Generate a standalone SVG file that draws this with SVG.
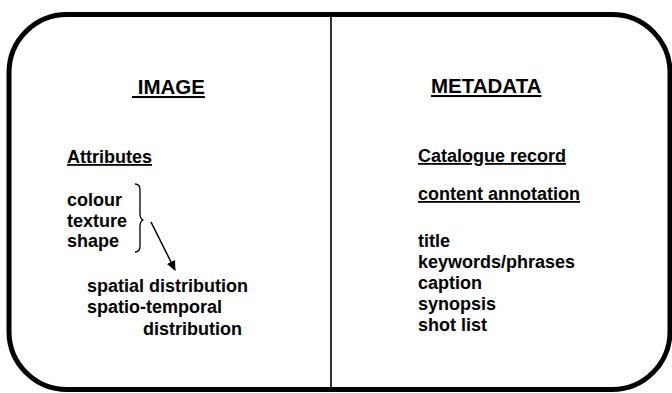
<svg xmlns="http://www.w3.org/2000/svg" width="672" height="393" viewBox="0 0 672 393">
<defs>
<style>
.t{font-family:"Liberation Sans",Arial,sans-serif;font-weight:bold;fill:#000;}
.h{font-size:20.5px;}
.s{font-size:18px;}
.u{text-decoration:underline;}
</style>
<marker id="ah" markerWidth="10" markerHeight="10" refX="9" refY="5" orient="auto" markerUnits="userSpaceOnUse">
<path d="M0,0.5 L10,5 L0,9.5 z" fill="#000"/>
</marker>
</defs>
<rect width="672" height="393" fill="#fff"/>
<g id="frame">
<rect x="9" y="14.5" width="661" height="375" rx="58" ry="58" fill="none" stroke="#000" stroke-width="5"/>
<line x1="331" y1="14" x2="331" y2="390" stroke="#000" stroke-width="1.6"/>
</g>
<g id="image">
<text class="t h u" x="132" y="94" xml:space="preserve"> IMAGE</text>
<text class="t s u" x="67" y="163">Attributes</text>
<text class="t s" x="67" y="206">colour</text>
<text class="t s" x="67" y="227">texture</text>
<text class="t s" x="67" y="247">shape</text>
<path d="M135,184 C138,184 140,186 140,190 L140,214 C140,217 141,219 143,220 C141,221 140,223 140,226 L140,246 C140,250 138,252 135,252" fill="none" stroke="#000" stroke-width="1.3"/>
<text class="t s" x="87" y="292">spatial distribution</text>
<text class="t s" x="87" y="313">spatio-temporal</text>
<text class="t s" x="143" y="335">distribution</text>
</g>
<g id="metadata">
<text class="t h u" x="431" y="93">METADATA</text>
<text class="t s u" x="418" y="162">Catalogue record</text>
<text class="t s u" x="418" y="200">content annotation</text>
<text class="t s" x="418" y="247">title</text>
<text class="t s" x="418" y="268">keywords/phrases</text>
<text class="t s" x="418" y="289">caption</text>
<text class="t s" x="418" y="310">synopsis</text>
<text class="t s" x="418" y="331">shot list</text>
</g>
<g id="connectors">
<line x1="151" y1="222" x2="175" y2="270" stroke="#000" stroke-width="1.5" marker-end="url(#ah)"/>
</g>
</svg>
